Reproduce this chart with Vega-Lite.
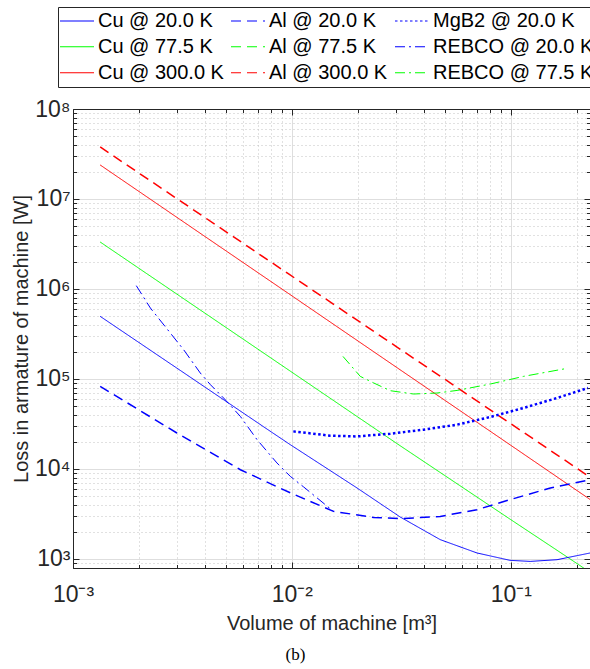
{
  "$schema": "https://vega.github.io/schema/vega-lite/v6.json",
  "width": 517,
  "height": 459,
  "autosize": "none",
  "padding": {"left": 73, "top": 109, "right": 0, "bottom": 101},
  "background": "white",
  "title": {"text": "(b)", "orient": "bottom", "font": "Liberation Serif", "fontSize": 17, "fontWeight": "normal", "color": "black", "anchor": "middle", "dx": -36, "offset": 13},
  "config": {"view": {"stroke": null}},
  "data": {"values": [
    {"s": "Cu @ 300.0 K", "v": 0.001331, "p": 23880000},
    {"s": "Cu @ 300.0 K", "v": 0.003114, "p": 5820000},
    {"s": "Cu @ 300.0 K", "v": 0.0097, "p": 883000},
    {"s": "Cu @ 300.0 K", "v": 0.0302, "p": 133700},
    {"s": "Cu @ 300.0 K", "v": 0.09408, "p": 20280},
    {"s": "Cu @ 300.0 K", "v": 0.2334, "p": 4477},
    {"s": "Al @ 300.0 K", "v": 0.001331, "p": 37840000},
    {"s": "Al @ 300.0 K", "v": 0.003114, "p": 9400000},
    {"s": "Al @ 300.0 K", "v": 0.0097, "p": 1459000},
    {"s": "Al @ 300.0 K", "v": 0.0302, "p": 226500},
    {"s": "Al @ 300.0 K", "v": 0.09408, "p": 35160},
    {"s": "Al @ 300.0 K", "v": 0.2334, "p": 7925},
    {"s": "Cu @ 77.5 K", "v": 0.001331, "p": 3327000},
    {"s": "Cu @ 77.5 K", "v": 0.003114, "p": 817000},
    {"s": "Cu @ 77.5 K", "v": 0.0097, "p": 125000},
    {"s": "Cu @ 77.5 K", "v": 0.0302, "p": 19140},
    {"s": "Cu @ 77.5 K", "v": 0.1, "p": 2735},
    {"s": "Cu @ 77.5 K", "v": 0.1845, "p": 1019},
    {"s": "Cu @ 77.5 K", "v": 0.2307, "p": 708},
    {"s": "Cu @ 20.0 K", "v": 0.001331, "p": 496600},
    {"s": "Cu @ 20.0 K", "v": 0.003114, "p": 123000},
    {"s": "Cu @ 20.0 K", "v": 0.00769, "p": 27800},
    {"s": "Cu @ 20.0 K", "v": 0.009833, "p": 18620},
    {"s": "Cu @ 20.0 K", "v": 0.01984, "p": 6152},
    {"s": "Cu @ 20.0 K", "v": 0.03126, "p": 2924},
    {"s": "Cu @ 20.0 K", "v": 0.04758, "p": 1641},
    {"s": "Cu @ 20.0 K", "v": 0.07002, "p": 1167},
    {"s": "Cu @ 20.0 K", "v": 0.09913, "p": 966},
    {"s": "Cu @ 20.0 K", "v": 0.1227, "p": 940},
    {"s": "Cu @ 20.0 K", "v": 0.1627, "p": 982},
    {"s": "Cu @ 20.0 K", "v": 0.2308, "p": 1167},
    {"s": "Al @ 20.0 K", "v": 0.001331, "p": 82790},
    {"s": "Al @ 20.0 K", "v": 0.002982, "p": 25120},
    {"s": "Al @ 20.0 K", "v": 0.005816, "p": 9817},
    {"s": "Al @ 20.0 K", "v": 0.009833, "p": 5433},
    {"s": "Al @ 20.0 K", "v": 0.01549, "p": 3381},
    {"s": "Al @ 20.0 K", "v": 0.02363, "p": 2897},
    {"s": "Al @ 20.0 K", "v": 0.03126, "p": 2805},
    {"s": "Al @ 20.0 K", "v": 0.04758, "p": 2972},
    {"s": "Al @ 20.0 K", "v": 0.07002, "p": 3532},
    {"s": "Al @ 20.0 K", "v": 0.09913, "p": 4560},
    {"s": "Al @ 20.0 K", "v": 0.1516, "p": 6152},
    {"s": "Al @ 20.0 K", "v": 0.2308, "p": 7603},
    {"s": "MgB2 @ 20.0 K", "v": 0.01015, "p": 26180},
    {"s": "MgB2 @ 20.0 K", "v": 0.01497, "p": 23440},
    {"s": "MgB2 @ 20.0 K", "v": 0.01984, "p": 23010},
    {"s": "MgB2 @ 20.0 K", "v": 0.02814, "p": 24660},
    {"s": "MgB2 @ 20.0 K", "v": 0.03995, "p": 27350},
    {"s": "MgB2 @ 20.0 K", "v": 0.05681, "p": 31050},
    {"s": "MgB2 @ 20.0 K", "v": 0.0806, "p": 37840},
    {"s": "MgB2 @ 20.0 K", "v": 0.1143, "p": 47640},
    {"s": "MgB2 @ 20.0 K", "v": 0.1627, "p": 61520},
    {"s": "MgB2 @ 20.0 K", "v": 0.2251, "p": 79430},
    {"s": "REBCO @ 77.5 K", "v": 0.01711, "p": 178200},
    {"s": "REBCO @ 77.5 K", "v": 0.02053, "p": 106900},
    {"s": "REBCO @ 77.5 K", "v": 0.02363, "p": 90360},
    {"s": "REBCO @ 77.5 K", "v": 0.02814, "p": 74130},
    {"s": "REBCO @ 77.5 K", "v": 0.03598, "p": 68080},
    {"s": "REBCO @ 77.5 K", "v": 0.04599, "p": 69820},
    {"s": "REBCO @ 77.5 K", "v": 0.05681, "p": 74640},
    {"s": "REBCO @ 77.5 K", "v": 0.0806, "p": 87900},
    {"s": "REBCO @ 77.5 K", "v": 0.1143, "p": 106900},
    {"s": "REBCO @ 77.5 K", "v": 0.1806, "p": 131200},
    {"s": "REBCO @ 20.0 K", "v": 0.001946, "p": 1089000},
    {"s": "REBCO @ 20.0 K", "v": 0.002256, "p": 615200},
    {"s": "REBCO @ 20.0 K", "v": 0.0032, "p": 211800},
    {"s": "REBCO @ 20.0 K", "v": 0.003813, "p": 116700},
    {"s": "REBCO @ 20.0 K", "v": 0.004242, "p": 86500},
    {"s": "REBCO @ 20.0 K", "v": 0.004873, "p": 61520},
    {"s": "REBCO @ 20.0 K", "v": 0.005816, "p": 38370},
    {"s": "REBCO @ 20.0 K", "v": 0.00693, "p": 21180},
    {"s": "REBCO @ 20.0 K", "v": 0.008543, "p": 11670},
    {"s": "REBCO @ 20.0 K", "v": 0.009833, "p": 8279},
    {"s": "REBCO @ 20.0 K", "v": 0.01132, "p": 6310},
    {"s": "REBCO @ 20.0 K", "v": 0.01549, "p": 3381}
  ]},
  "resolve": {"axis": {"x": "independent", "y": "independent"}},
  "layer": [
    {
      "mark": {"type": "line", "clip": true},
      "encoding": {
        "x": {
          "field": "v", "type": "quantitative",
          "scale": {"type": "log", "domain": [0.001, 0.23], "nice": false, "zero": false},
          "axis": {
            "orient": "bottom",
            "values": [0.001,0.002,0.003,0.004,0.005,0.006,0.007,0.008,0.009,0.01,0.02,0.03,0.04,0.05,0.06,0.07,0.08,0.09,0.1,0.2],
            "labelExpr": "abs(log(datum.value)/LN10 - round(log(datum.value)/LN10)) < 0.001 ? '10' + (datum.value < 1 ? '⁻' : '') + ['⁰','¹','²','³','⁴','⁵','⁶','⁷','⁸','⁹'][abs(round(log(datum.value)/LN10))] : ''",
            "labelOverlap": false, "labelFlush": false, "labelBound": false,
            "labelFont": "Liberation Sans", "labelFontSize": 23, "labelColor": "#262626", "labelPadding": 21,
            "grid": true,
            "gridColor": {"condition": {"test": "abs(log(datum.value)/LN10 - round(log(datum.value)/LN10)) < 0.001", "value": "#dedede"}, "value": "#c2c2c2"},
            "gridDash": {"condition": {"test": "abs(log(datum.value)/LN10 - round(log(datum.value)/LN10)) < 0.001", "value": []}, "value": [1, 3]},
            "gridWidth": 1,
            "tickSize": {"condition": {"test": "abs(log(datum.value)/LN10 - round(log(datum.value)/LN10)) < 0.001", "value": -6}, "value": -3.5},
            "tickColor": "#262626", "domainColor": "#262626",
            "title": "Volume of machine [m³]", "titleFont": "Liberation Sans", "titleFontSize": 20, "titleFontWeight": "normal", "titleColor": "#262626", "titlePadding": 5
          }
        },
        "y": {
          "field": "p", "type": "quantitative",
          "scale": {"type": "log", "domain": [794, 100000000], "nice": false, "zero": false},
          "axis": {
            "orient": "left",
            "values": [800,900,1000,2000,3000,4000,5000,6000,7000,8000,9000,10000,20000,30000,40000,50000,60000,70000,80000,90000,100000,200000,300000,400000,500000,600000,700000,800000,900000,1000000,2000000,3000000,4000000,5000000,6000000,7000000,8000000,9000000,10000000,20000000,30000000,40000000,50000000,60000000,70000000,80000000,90000000,100000000],
            "labelExpr": "abs(log(datum.value)/LN10 - round(log(datum.value)/LN10)) < 0.001 ? '10' + ['⁰','¹','²','³','⁴','⁵','⁶','⁷','⁸','⁹'][abs(round(log(datum.value)/LN10))] : ''",
            "labelOverlap": false, "labelFlush": false, "labelBound": false,
            "labelFont": "Liberation Sans", "labelFontSize": 23, "labelColor": "#262626", "labelPadding": 9,
            "grid": true,
            "gridColor": {"condition": {"test": "abs(log(datum.value)/LN10 - round(log(datum.value)/LN10)) < 0.001", "value": "#dedede"}, "value": "#c2c2c2"},
            "gridDash": {"condition": {"test": "abs(log(datum.value)/LN10 - round(log(datum.value)/LN10)) < 0.001", "value": []}, "value": [1, 3]},
            "gridWidth": 1,
            "tickSize": {"condition": {"test": "abs(log(datum.value)/LN10 - round(log(datum.value)/LN10)) < 0.001", "value": -6}, "value": -3.5},
            "tickColor": "#262626", "domainColor": "#262626",
            "title": "Loss in armature of machine [W]", "titleFont": "Liberation Sans", "titleFontSize": 20, "titleFontWeight": "normal", "titleColor": "#262626", "titlePadding": 3
          }
        },
        "color": {
          "field": "s", "type": "nominal",
          "scale": {
            "domain": ["Cu @ 20.0 K", "Cu @ 77.5 K", "Cu @ 300.0 K", "Al @ 20.0 K", "Al @ 77.5 K", "Al @ 300.0 K", "MgB2 @ 20.0 K", "REBCO @ 20.0 K", "REBCO @ 77.5 K"],
            "range": ["#0000ff", "#00ff00", "#ff0000", "#0000ff", "#00ff00", "#ff0000", "#0000ff", "#0000ff", "#00ff00"]
          },
          "legend": {
            "orient": "none", "legendX": -15, "legendY": -102, "columns": 3, "title": null,
            "symbolType": "stroke", "symbolSize": 1156, "clipHeight": 25.5, "symbolStrokeWidth": 1.2,
            "labelFont": "Liberation Sans", "labelFontSize": 20, "labelColor": "black", "labelOffset": 3, "labelLimit": 300,
            "strokeColor": "#262626", "fillColor": "white", "padding": 1, "rowPadding": 0, "columnPadding": 6
          }
        },
        "strokeDash": {
          "field": "s", "type": "nominal",
          "scale": {
            "domain": ["Cu @ 20.0 K", "Cu @ 77.5 K", "Cu @ 300.0 K", "Al @ 20.0 K", "Al @ 77.5 K", "Al @ 300.0 K", "MgB2 @ 20.0 K", "REBCO @ 20.0 K", "REBCO @ 77.5 K"],
            "range": [[1, 0], [1, 0], [1, 0], [10, 6], [10, 6], [10, 6], [2.5, 2.5], [10, 4, 2, 4], [10, 4, 2, 4]]
          }
        },
        "strokeWidth": {
          "condition": [
            {"test": "datum.s == 'MgB2 @ 20.0 K'", "value": 2.5},
            {"test": "indexof(datum.s, 'Al') == 0", "value": 1.5}
          ],
          "value": 1
        }
      }
    },
    {
      "mark": {"type": "point", "opacity": 0, "size": 0},
      "encoding": {
        "x": {
          "field": "v", "type": "quantitative",
          "scale": {"type": "log", "domain": [0.001, 0.23], "nice": false, "zero": false},
          "axis": {
            "orient": "top", "labels": false, "title": null, "grid": false,
            "values": [0.001,0.002,0.003,0.004,0.005,0.006,0.007,0.008,0.009,0.01,0.02,0.03,0.04,0.05,0.06,0.07,0.08,0.09,0.1,0.2],
            "tickSize": {"condition": {"test": "abs(log(datum.value)/LN10 - round(log(datum.value)/LN10)) < 0.001", "value": -6}, "value": -3.5},
            "tickColor": "#262626", "domainColor": "#262626"
          }
        },
        "y": {
          "field": "p", "type": "quantitative",
          "scale": {"type": "log", "domain": [794, 100000000], "nice": false, "zero": false},
          "axis": {
            "orient": "right", "labels": false, "title": null, "grid": false, "domain": false,
            "values": [800,900,1000,2000,3000,4000,5000,6000,7000,8000,9000,10000,20000,30000,40000,50000,60000,70000,80000,90000,100000,200000,300000,400000,500000,600000,700000,800000,900000,1000000,2000000,3000000,4000000,5000000,6000000,7000000,8000000,9000000,10000000,20000000,30000000,40000000,50000000,60000000,70000000,80000000,90000000,100000000],
            "tickSize": {"condition": {"test": "abs(log(datum.value)/LN10 - round(log(datum.value)/LN10)) < 0.001", "value": -6}, "value": -3.5},
            "tickColor": "#262626"
          }
        }
      }
    }
  ]
}
